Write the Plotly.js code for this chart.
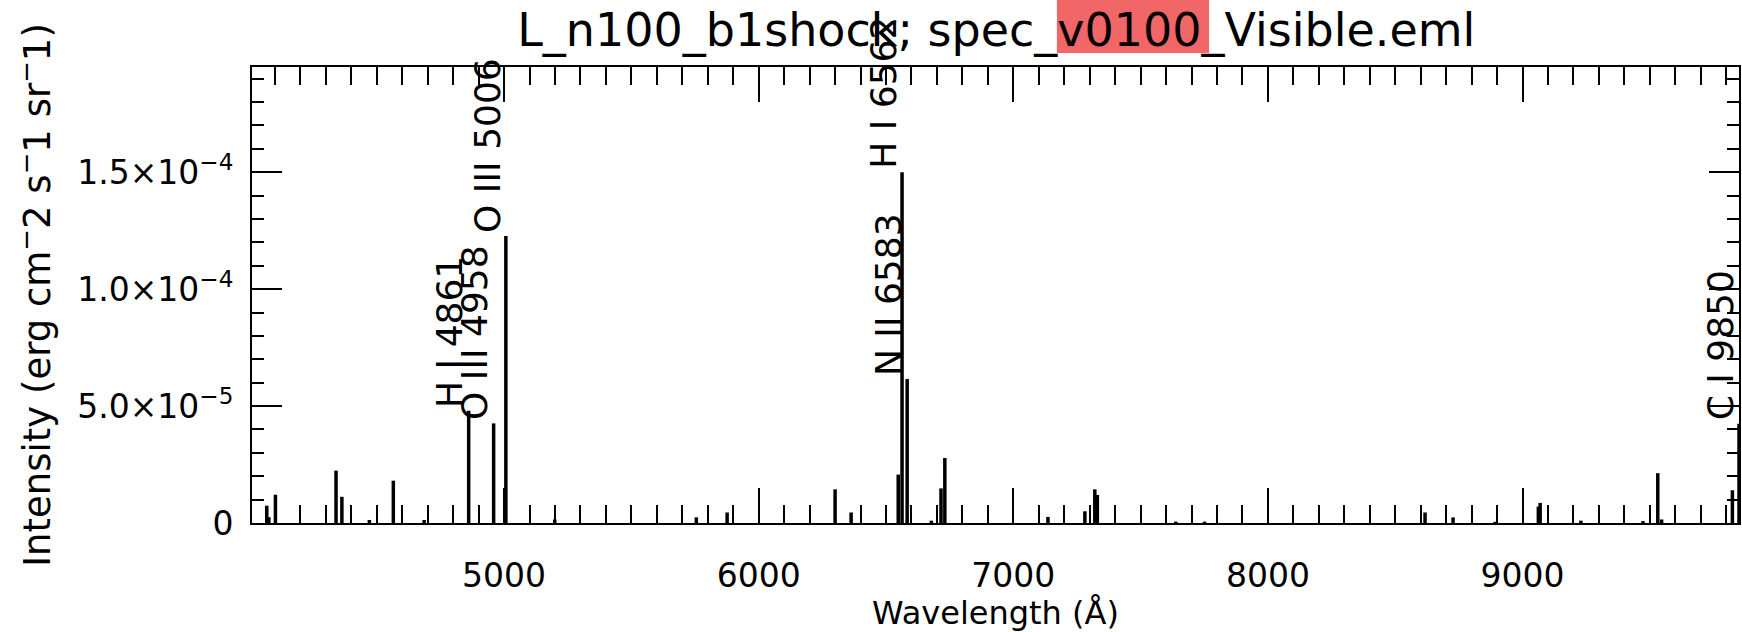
<!DOCTYPE html>
<html>
<head>
<meta charset="utf-8">
<script src="https://cdn.plot.ly/plotly-3.0.1.min.js"></script>
<style>html,body{margin:0;padding:0;background:#fff;}#chart{width:1742px;height:632px;}</style>
</head>
<body>
<div id="chart"></div>
<script>
// Emission line wavelengths (Angstrom)
var wavelengths = [4068, 4076, 4102, 4340, 4363, 4471, 4565, 4686, 4861, 4959, 5007, 5199,
                   5755, 5876, 6300, 6363, 6548, 6563, 6583, 6678, 6716, 6731,
                   7136, 7281, 7320, 7330, 7638, 7751,
                   8617, 8727, 8892, 9062, 9069, 9229, 9473, 9531, 9546, 9824, 9850];
// Line intensities (erg cm^-2 s^-1 sr^-1)
var intensities = [0.74e-5, 0.25e-5, 1.21e-5, 2.24e-5, 1.12e-5, 0.13e-5, 1.81e-5, 0.13e-5, 4.8e-5, 4.26e-5, 1.227e-4, 0.15e-5,
                   0.24e-5, 0.45e-5, 1.44e-5, 0.45e-5, 2.07e-5, 1.50e-4, 6.16e-5, 0.1e-5, 1.48e-5, 2.78e-5,
                   0.26e-5, 0.5e-5, 1.44e-5, 1.2e-5, 0.06e-5, 0.06e-5,
                   0.45e-5, 0.24e-5, 0.05e-5, 0.7e-5, 0.86e-5, 0.1e-5, 0.08e-5, 2.13e-5, 0.15e-5, 1.4e-5, 4.24e-5];
// Labelled lines
var labelWavelengths = [4861, 4959, 5007, 6563, 6583, 9850];
var labelIntensities = [4.8e-5, 4.26e-5, 1.227e-4, 1.50e-4, 6.16e-5, 4.24e-5];
var labelTexts = ["H I 4861", "O III 4958", "O III 5006", "H I 6562", "N II 6583", "C I 9850"];
// Axis ticks
var xTickVals = [5000, 6000, 7000, 8000, 9000];
var yTickVals = [0, 5e-5, 1e-4, 1.5e-4];
var yTickText = ["0", "5.0×10<sup>−5</sup>", "1.0×10<sup>−4</sup>", "1.5×10<sup>−4</sup>"];
var xRange = [4010, 9850];
var yRange = [0, 1.95e-4];

var sx = [], sy = [];
for (var i = 0; i < wavelengths.length; i++) {
  sx.push(wavelengths[i], wavelengths[i], null);
  sy.push(0, intensities[i], null);
}

var font = "DejaVu Sans, Verdana, sans-serif";
var annotations = labelTexts.map(function (t, i) {
  return {
    x: labelWavelengths[i], y: labelIntensities[i], xref: 'x', yref: 'y',
    text: t, showarrow: false, textangle: -90,
    xanchor: 'right', yanchor: 'bottom', xshift: 4, yshift: 1,
    font: {family: font, size: 36, color: '#000'}
  };
});

var trace = {
  x: sx, y: sy, type: 'scatter', mode: 'lines',
  line: {color: '#000', width: 3.5}, hoverinfo: 'skip', showlegend: false
};

var layout = {
  width: 1742, height: 632, autosize: false,
  margin: {l: 252, r: 3, t: 67, b: 109},
  paper_bgcolor: '#fff', plot_bgcolor: '#fff',
  font: {family: font, size: 33, color: '#000'},
  title: {text: 'L_n100_b1shock; spec_v0100_Visible.eml', font: {family: font, size: 46, color: '#000'},
          x: 0.5719, xanchor: 'center', y: 0.952, yanchor: 'middle'},
  showlegend: false,
  xaxis: {
    range: xRange, tickmode: 'array', tickvals: xTickVals,
    ticks: 'inside', ticklen: 35, tickwidth: 2, tickcolor: '#000',
    showline: true, linewidth: 2, linecolor: '#000', mirror: 'ticks',
    showgrid: false, zeroline: false,
    minor: {tickmode: 'linear', tick0: 4000, dtick: 100, ticks: 'inside', ticklen: 18, tickwidth: 2, tickcolor: '#000', showgrid: false},
    tickfont: {family: font, size: 33, color: '#000'},
    ticklabelstandoff: 22,
    title: {text: 'Wavelength (Å)', font: {family: font, size: 32, color: '#000'}, standoff: 12}
  },
  yaxis: {
    range: yRange, tickmode: 'array', tickvals: yTickVals, ticktext: yTickText,
    ticks: 'inside', ticklen: 30, tickwidth: 2, tickcolor: '#000',
    showline: true, linewidth: 2, linecolor: '#000', mirror: 'ticks',
    showgrid: false, zeroline: false,
    minor: {tickmode: 'linear', tick0: 0, dtick: 1e-5, ticks: 'inside', ticklen: 12, tickwidth: 2, tickcolor: '#000', showgrid: false},
    tickfont: {family: font, size: 33, color: '#000'},
    ticklabelstandoff: 10,
    title: {text: 'Intensity (erg cm<sup>−</sup>2 s<sup>−</sup>1 sr<sup>−</sup>1)', font: {family: font, size: 37, color: '#000'}, standoff: 15}
  },
  annotations: annotations,
  shapes: [{
    type: 'rect', xref: 'paper', yref: 'paper', layer: 'above',
    x0: 0.5413, x1: 0.6436, y0: 1.0307, y1: 1.147,
    fillcolor: 'rgba(235,30,30,0.68)', line: {width: 0}
  }]
};

Plotly.newPlot('chart', [trace], layout, {displayModeBar: false, staticPlot: true});
</script>
</body>
</html>
